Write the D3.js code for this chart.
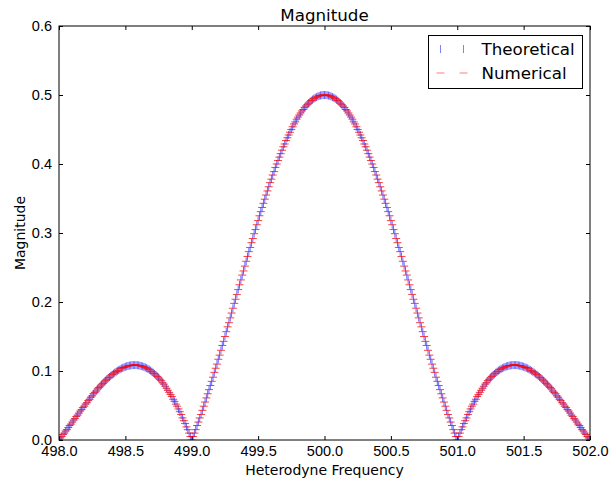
<!DOCTYPE html>
<html>
<head>
<meta charset="utf-8">
<script src="https://cdn.jsdelivr.net/npm/d3@7"></script>
<style>
  body { margin: 0; background: #fff; }
  svg { display: block; font-family: "DejaVu Sans", sans-serif; }
</style>
</head>
<body>
<svg id="chart" width="613" height="478"></svg>
<script>
// Frequencies 498.00 .. 502.00
const freq = [
  498.00,498.01,498.02,498.03,498.04,498.05,498.06,498.07,498.08,498.09,
  498.10,498.11,498.12,498.13,498.14,498.15,498.16,498.17,498.18,498.19,
  498.20,498.21,498.22,498.23,498.24,498.25,498.26,498.27,498.28,498.29,
  498.30,498.31,498.32,498.33,498.34,498.35,498.36,498.37,498.38,498.39,
  498.40,498.41,498.42,498.43,498.44,498.45,498.46,498.47,498.48,498.49,
  498.50,498.51,498.52,498.53,498.54,498.55,498.56,498.57,498.58,498.59,
  498.60,498.61,498.62,498.63,498.64,498.65,498.66,498.67,498.68,498.69,
  498.70,498.71,498.72,498.73,498.74,498.75,498.76,498.77,498.78,498.79,
  498.80,498.81,498.82,498.83,498.84,498.85,498.86,498.87,498.88,498.89,
  498.90,498.91,498.92,498.93,498.94,498.95,498.96,498.97,498.98,498.99,
  499.00,499.01,499.02,499.03,499.04,499.05,499.06,499.07,499.08,499.09,
  499.10,499.11,499.12,499.13,499.14,499.15,499.16,499.17,499.18,499.19,
  499.20,499.21,499.22,499.23,499.24,499.25,499.26,499.27,499.28,499.29,
  499.30,499.31,499.32,499.33,499.34,499.35,499.36,499.37,499.38,499.39,
  499.40,499.41,499.42,499.43,499.44,499.45,499.46,499.47,499.48,499.49,
  499.50,499.51,499.52,499.53,499.54,499.55,499.56,499.57,499.58,499.59,
  499.60,499.61,499.62,499.63,499.64,499.65,499.66,499.67,499.68,499.69,
  499.70,499.71,499.72,499.73,499.74,499.75,499.76,499.77,499.78,499.79,
  499.80,499.81,499.82,499.83,499.84,499.85,499.86,499.87,499.88,499.89,
  499.90,499.91,499.92,499.93,499.94,499.95,499.96,499.97,499.98,499.99,
  500.00,
  500.01,500.02,500.03,500.04,500.05,500.06,500.07,500.08,500.09,500.10,
  500.11,500.12,500.13,500.14,500.15,500.16,500.17,500.18,500.19,500.20,
  500.21,500.22,500.23,500.24,500.25,500.26,500.27,500.28,500.29,500.30,
  500.31,500.32,500.33,500.34,500.35,500.36,500.37,500.38,500.39,500.40,
  500.41,500.42,500.43,500.44,500.45,500.46,500.47,500.48,500.49,500.50,
  500.51,500.52,500.53,500.54,500.55,500.56,500.57,500.58,500.59,500.60,
  500.61,500.62,500.63,500.64,500.65,500.66,500.67,500.68,500.69,500.70,
  500.71,500.72,500.73,500.74,500.75,500.76,500.77,500.78,500.79,500.80,
  500.81,500.82,500.83,500.84,500.85,500.86,500.87,500.88,500.89,500.90,
  500.91,500.92,500.93,500.94,500.95,500.96,500.97,500.98,500.99,501.00,
  501.01,501.02,501.03,501.04,501.05,501.06,501.07,501.08,501.09,501.10,
  501.11,501.12,501.13,501.14,501.15,501.16,501.17,501.18,501.19,501.20,
  501.21,501.22,501.23,501.24,501.25,501.26,501.27,501.28,501.29,501.30,
  501.31,501.32,501.33,501.34,501.35,501.36,501.37,501.38,501.39,501.40,
  501.41,501.42,501.43,501.44,501.45,501.46,501.47,501.48,501.49,501.50,
  501.51,501.52,501.53,501.54,501.55,501.56,501.57,501.58,501.59,501.60,
  501.61,501.62,501.63,501.64,501.65,501.66,501.67,501.68,501.69,501.70,
  501.71,501.72,501.73,501.74,501.75,501.76,501.77,501.78,501.79,501.80,
  501.81,501.82,501.83,501.84,501.85,501.86,501.87,501.88,501.89,501.90,
  501.91,501.92,501.93,501.94,501.95,501.96,501.97,501.98,501.99,502.00
];

const theoretical = [
  0,.0025,.0050,.0076,.0102,.0128,.0154,.0180,.0206,.0232,
  .0259,.0285,.0312,.0338,.0364,.0391,.0417,.0443,.0469,.0494,
  .0520,.0545,.0570,.0595,.0619,.0643,.0667,.0690,.0713,.0735,
  .0757,.0779,.0800,.0820,.0840,.0859,.0878,.0896,.0913,.0930,
  .0946,.0961,.0976,.0989,.1002,.1014,.1025,.1036,.1045,.1053,
  .1061,.1068,.1073,.1078,.1082,.1084,.1086,.1086,.1086,.1084,
  .1081,.1077,.1072,.1066,.1059,.1050,.1041,.1030,.1018,.1005,
  .0990,.0975,.0958,.0940,.0921,.0900,.0879,.0856,.0832,.0806,
  .0780,.0752,.0723,.0692,.0661,.0628,.0594,.0559,.0523,.0486,
  .0447,.0407,.0366,.0324,.0281,.0237,.0192,.0145,.0098,.0049,
  0,.0050,.0102,.0154,.0208,.0262,.0317,.0373,.0430,.0488,
  .0546,.0606,.0666,.0727,.0788,.0850,.0913,.0976,.1040,.1104,
  .1169,.1235,.1301,.1367,.1434,.1501,.1568,.1635,.1703,.1771,
  .1839,.1908,.1976,.2045,.2113,.2182,.2250,.2319,.2387,.2455,
  .2523,.2590,.2658,.2725,.2792,.2858,.2924,.2990,.3055,.3119,
  .3183,.3246,.3309,.3371,.3433,.3493,.3553,.3612,.3670,.3728,
  .3784,.3840,.3894,.3948,.4000,.4052,.4102,.4151,.4199,.4246,
  .4292,.4336,.4380,.4422,.4462,.4502,.4540,.4576,.4611,.4645,
  .4677,.4708,.4738,.4766,.4792,.4817,.4840,.4862,.4882,.4901,
  .4918,.4934,.4948,.4960,.4970,.4979,.4987,.4993,.4997,.4999,
  .5000,
  .4999,.4997,.4993,.4987,.4979,.4970,.4960,.4948,.4934,.4918,
  .4901,.4882,.4862,.4840,.4817,.4792,.4766,.4738,.4708,.4677,
  .4645,.4611,.4576,.4540,.4502,.4462,.4422,.4380,.4336,.4292,
  .4246,.4199,.4151,.4102,.4052,.4000,.3948,.3894,.3840,.3784,
  .3728,.3670,.3612,.3553,.3493,.3433,.3371,.3309,.3246,.3183,
  .3119,.3055,.2990,.2924,.2858,.2792,.2725,.2658,.2590,.2523,
  .2455,.2387,.2319,.2250,.2182,.2113,.2045,.1976,.1908,.1839,
  .1771,.1703,.1635,.1568,.1501,.1434,.1367,.1301,.1235,.1169,
  .1104,.1040,.0976,.0913,.0850,.0788,.0727,.0666,.0606,.0546,
  .0488,.0430,.0373,.0317,.0262,.0208,.0154,.0102,.0050,0,
  .0049,.0098,.0145,.0192,.0237,.0281,.0324,.0366,.0407,.0447,
  .0486,.0523,.0559,.0594,.0628,.0661,.0692,.0723,.0752,.0780,
  .0806,.0832,.0856,.0879,.0900,.0921,.0940,.0958,.0975,.0990,
  .1005,.1018,.1030,.1041,.1050,.1059,.1066,.1072,.1077,.1081,
  .1084,.1086,.1086,.1086,.1084,.1082,.1078,.1073,.1068,.1061,
  .1053,.1045,.1036,.1025,.1014,.1002,.0989,.0976,.0961,.0946,
  .0930,.0913,.0896,.0878,.0859,.0840,.0820,.0800,.0779,.0757,
  .0735,.0713,.0690,.0667,.0643,.0619,.0595,.0570,.0545,.0520,
  .0494,.0469,.0443,.0417,.0391,.0364,.0338,.0312,.0285,.0259,
  .0232,.0206,.0180,.0154,.0128,.0102,.0076,.0050,.0025,0
];

const numerical = [
  0,.003,.005,.008,.010,.013,.015,.018,.021,.023,
  .026,.029,.031,.034,.036,.039,.042,.044,.047,.049,
  .052,.054,.057,.059,.062,.064,.067,.069,.071,.074,
  .076,.078,.080,.082,.084,.086,.088,.090,.091,.093,
  .095,.096,.098,.099,.100,.101,.103,.104,.105,.105,
  .106,.107,.107,.108,.108,.108,.109,.109,.109,.108,
  .108,.108,.107,.107,.106,.105,.104,.103,.102,.100,
  .099,.097,.096,.094,.092,.090,.088,.086,.083,.081,
  .078,.075,.072,.069,.066,.063,.059,.056,.052,.049,
  .045,.041,.037,.032,.028,.024,.019,.015,.010,.005,
  0,.005,.010,.015,.021,.026,.032,.037,.043,.049,
  .055,.061,.067,.073,.079,.085,.091,.098,.104,.110,
  .117,.123,.130,.137,.143,.150,.157,.164,.170,.177,
  .184,.191,.198,.204,.211,.218,.225,.232,.239,.245,
  .252,.259,.266,.273,.279,.286,.292,.299,.305,.312,
  .318,.325,.331,.337,.343,.349,.355,.361,.367,.373,
  .378,.384,.389,.395,.400,.405,.410,.415,.420,.425,
  .429,.434,.438,.442,.446,.450,.454,.458,.461,.465,
  .468,.471,.474,.477,.479,.482,.484,.486,.488,.490,
  .492,.493,.495,.496,.497,.498,.499,.499,.500,.500,
  .500,
  .500,.500,.499,.499,.498,.497,.496,.495,.493,.492,
  .490,.488,.486,.484,.482,.479,.477,.474,.471,.468,
  .465,.461,.458,.454,.450,.446,.442,.438,.434,.429,
  .425,.420,.415,.410,.405,.400,.395,.389,.384,.378,
  .373,.367,.361,.355,.349,.343,.337,.331,.325,.318,
  .312,.305,.299,.292,.286,.279,.273,.266,.259,.252,
  .245,.239,.232,.225,.218,.211,.204,.198,.191,.184,
  .177,.170,.164,.157,.150,.143,.137,.130,.123,.117,
  .110,.104,.098,.091,.085,.079,.073,.067,.061,.055,
  .049,.043,.037,.032,.026,.021,.015,.010,.005,0,
  .005,.010,.015,.019,.024,.028,.032,.037,.041,.045,
  .049,.052,.056,.059,.063,.066,.069,.072,.075,.078,
  .081,.083,.086,.088,.090,.092,.094,.096,.097,.099,
  .100,.102,.103,.104,.105,.106,.107,.107,.108,.108,
  .108,.109,.109,.109,.108,.108,.108,.107,.107,.106,
  .105,.105,.104,.103,.101,.100,.099,.098,.096,.095,
  .093,.091,.090,.088,.086,.084,.082,.080,.078,.076,
  .074,.071,.069,.067,.064,.062,.059,.057,.054,.052,
  .049,.047,.044,.042,.039,.036,.034,.031,.029,.026,
  .023,.021,.018,.015,.013,.010,.008,.005,.003,0
];

const xTicks = [498.0, 498.5, 499.0, 499.5, 500.0, 500.5, 501.0, 501.5, 502.0];
const yTicks = [0.0, 0.1, 0.2, 0.3, 0.4, 0.5, 0.6];

// Set up dimensions
const margin = { top: 26, right: 23, bottom: 38, left: 59 };
const width = 613 - margin.left - margin.right;
const height = 478 - margin.top - margin.bottom;

const svg = d3.select("#chart");
const g = svg.append("g").attr("transform", `translate(${margin.left},${margin.top})`);

const x = d3.scaleLinear().domain([498, 502]).range([0, width]);
const y = d3.scaleLinear().domain([0, 0.6]).range([height, 0]);

const fmt = d3.format(".1f");

// Axes with inward ticks on all four sides
const styleAxis = sel => {
  sel.select(".domain").remove();
  sel.selectAll("line").attr("stroke", "#000");
  sel.selectAll("text").attr("fill", "#000").style("font-size", "14.5px");
};

g.append("g")
  .attr("transform", `translate(0,${height})`)
  .call(d3.axisBottom(x).tickValues(xTicks).tickFormat(fmt).tickSize(-4).tickPadding(6))
  .call(styleAxis);
g.append("g")
  .call(d3.axisTop(x).tickValues(xTicks).tickFormat("").tickSize(-4))
  .call(styleAxis);
g.append("g")
  .call(d3.axisLeft(y).tickValues(yTicks).tickFormat(fmt).tickSize(-4).tickPadding(7))
  .call(styleAxis);
g.append("g")
  .attr("transform", `translate(${width},0)`)
  .call(d3.axisRight(y).tickValues(yTicks).tickFormat("").tickSize(-4))
  .call(styleAxis);

// Clip markers to the axes
svg.append("defs").append("clipPath").attr("id", "clip")
  .append("rect").attr("width", width).attr("height", height);

const plot = g.append("g").attr("clip-path", "url(#clip)");
const ms = 4;

const theoData = freq.map((f, i) => ({ f, v: theoretical[i] }));
const numData = freq.map((f, i) => ({ f, v: numerical[i] }));

plot.append("g").selectAll("line")
  .data(theoData)
  .enter()
  .append("line")
  .attr("x1", d => x(d.f)).attr("x2", d => x(d.f))
  .attr("y1", d => y(d.v) - ms).attr("y2", d => y(d.v) + ms)
  .attr("stroke", "#0000ff")
  .attr("stroke-opacity", 0.6)
  .attr("stroke-width", 1);

plot.append("g").selectAll("line")
  .data(numData)
  .enter()
  .append("line")
  .attr("x1", d => x(d.f) - ms).attr("x2", d => x(d.f) + ms)
  .attr("y1", d => y(d.v)).attr("y2", d => y(d.v))
  .attr("stroke", "#ff0000")
  .attr("stroke-opacity", 0.75)
  .attr("stroke-width", 1);

// Frame
g.append("rect")
  .attr("x", 0).attr("y", 0)
  .attr("width", width).attr("height", height)
  .attr("fill", "none")
  .attr("stroke", "#000")
  .attr("stroke-width", 1);

// Title and labels
svg.append("text")
  .attr("x", margin.left + width / 2).attr("y", 21)
  .attr("text-anchor", "middle")
  .style("font-size", "16.7px")
  .text("Magnitude");

svg.append("text")
  .attr("x", margin.left + width / 2).attr("y", 475)
  .attr("text-anchor", "middle")
  .style("font-size", "14px")
  .text("Heterodyne Frequency");

svg.append("text")
  .attr("transform", `translate(25,${margin.top + height / 2}) rotate(-90)`)
  .attr("text-anchor", "middle")
  .style("font-size", "14px")
  .text("Magnitude");

// Legend
const legend = svg.append("g").attr("transform", "translate(428.5,35.5)");
legend.append("rect")
  .attr("width", 154).attr("height", 53)
  .attr("fill", "#fff").attr("stroke", "#000").attr("stroke-width", 1);

const entries = [
  { name: "Theoretical", color: "#0000ff", vertical: true, cy: 13.5 },
  { name: "Numerical", color: "#ff0000", vertical: false, cy: 37.5 }
];
entries.forEach(e => {
  [12, 35].forEach(cx => {
    legend.append("line")
      .attr("x1", e.vertical ? cx : cx - ms).attr("x2", e.vertical ? cx : cx + ms)
      .attr("y1", e.vertical ? e.cy - ms : e.cy).attr("y2", e.vertical ? e.cy + ms : e.cy)
      .attr("stroke", e.color).attr("stroke-opacity", 0.5).attr("stroke-width", 1);
  });
  legend.append("text")
    .attr("x", 53).attr("y", e.cy)
    .attr("dominant-baseline", "central")
    .style("font-size", "16.7px")
    .text(e.name);
});
</script>
</body>
</html>
